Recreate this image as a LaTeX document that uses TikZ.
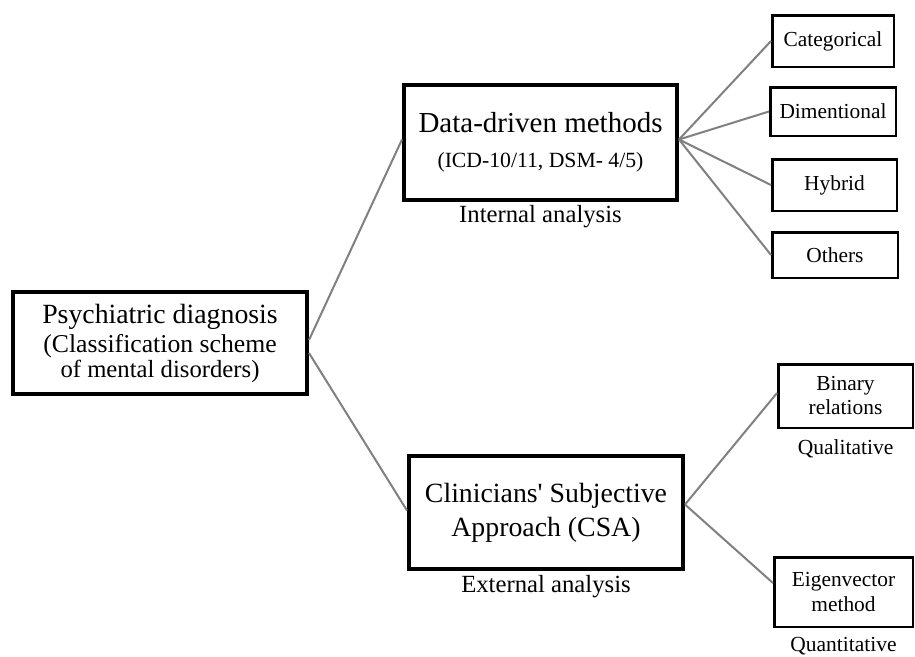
\documentclass[tikz,border=0pt]{standalone}
\usepackage{fontspec}
\setmainfont{Liberation Serif}
\usepackage{xcolor}
\usepackage{tikz}
\usetikzlibrary{shapes,arrows,positioning}
\usetikzlibrary{calc}
\definecolor{linkgray}{RGB}{128,128,128}
\tikzstyle{bigblock} = [rectangle, draw, line width=4pt, align=center, inner sep=0pt]
\tikzstyle{smallblock} = [rectangle, draw, line width=2.5pt, align=center,
    inner sep=0pt, font=\fontsize{21.4}{24}\selectfont]
\tikzstyle{link} = [draw, linkgray, line width=2pt]

\begin{document}
\begin{tikzpicture}[x=1pt, y=-1pt, node distance=4pt]
    % Style definitions
    \tikzstyle{note} = [font=\fontsize{24.7}{29}\selectfont, inner sep=3pt]
    \tikzstyle{smallnote} = [font=\fontsize{21.5}{25}\selectfont, inner sep=3pt]
    \useasboundingbox (0,0) rectangle (915,656);

    % Root node
    \node [bigblock, minimum width=294pt, minimum height=102pt,
        font=\fontsize{27.8}{29}\selectfont] (diagnosis) at (160,343)
        {Psychiatric diagnosis\\
         \fontsize{25.7}{29}\selectfont (Classification scheme\\[-4pt]
         \fontsize{24.7}{29}\selectfont of mental disorders)};

    % Second level
    \node [bigblock, minimum width=273pt, minimum height=115pt,
        font=\fontsize{29}{35}\selectfont] (datadriven) at (540.5,142.5)
        {Data-driven methods\\
         \fontsize{21.7}{35}\selectfont (ICD-10/11, DSM- 4/5)};
    \node [bigblock, minimum width=274pt, minimum height=113pt,
        font=\fontsize{27.8}{34}\selectfont] (csa) at (546,512.5)
        {Clinicians\textquotesingle\ Subjective\\ Approach (CSA)};

    % Leaves
    \node [smallblock, minimum width=121.5pt, minimum height=51.5pt] (categ) at (833,41) {Categorical};
    \node [smallblock, minimum width=125.5pt, minimum height=48.5pt] (dimen) at (833,111.5) {Dimentional};
    \node [smallblock, minimum width=124.5pt, minimum height=51.5pt] (hybrid) at (834.5,185) {Hybrid};
    \node [smallblock, minimum width=125.5pt, minimum height=45.5pt] (others) at (835,255) {Others};
    \node [smallblock, minimum width=134.5pt, minimum height=63.5pt] (binary) at (845.5,396) {Binary\\ relations};
    \node [smallblock, minimum width=138.5pt, minimum height=69.5pt] (eigen) at (843.5,592)
        {Eigenvector\\[1pt] method};

    % Labels under boxes
    \node [note, below=0pt of datadriven] (internal) {Internal analysis};
    \node [note, below=1pt of csa] (external) {External analysis};
    \node [smallnote, below=7pt of binary] (qualit) {Qualitative};
    \node [smallnote, below=6pt of eigen] (quantit) {Quantitative};

    % Connections
    \path [link] ([yshift=3pt]diagnosis.east) -- ([yshift=3pt]datadriven.west);
    \path [link] ([yshift=-10pt]diagnosis.east) -- ([yshift=2pt]csa.west);
    \path [link] ([yshift=3pt]datadriven.east) -- (categ.west);
    \path [link] ([yshift=3pt]datadriven.east) -- (dimen.west);
    \path [link] ([yshift=3pt]datadriven.east) -- (hybrid.west);
    \path [link] ([yshift=3pt]datadriven.east) -- (others.west);
    \path [link] ([yshift=8pt]csa.east) -- ([yshift=3pt]binary.west);
    \path [link] ([yshift=8pt]csa.east) -- ([yshift=9pt]eigen.west);
\end{tikzpicture}
\end{document}
